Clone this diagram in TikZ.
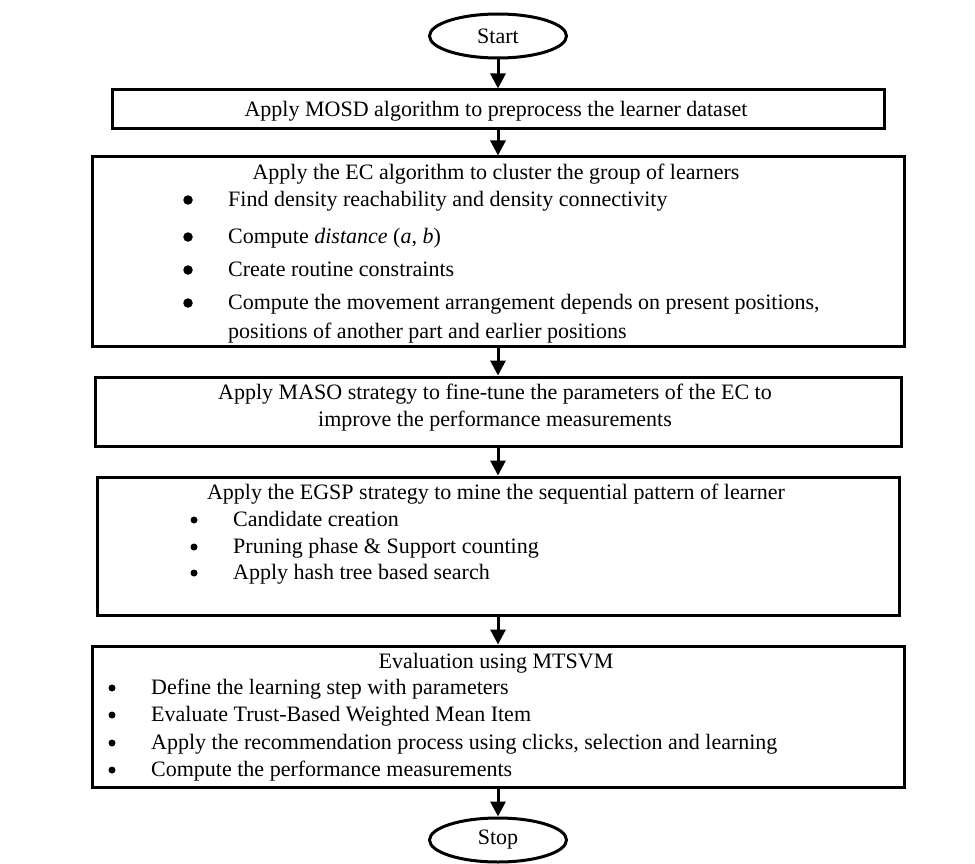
\documentclass[tikz,border=0pt]{standalone}
\usepackage{fontspec}
\setmainfont{Liberation Serif}
\usetikzlibrary{arrows.meta,shapes.geometric}
\begin{document}
\begin{tikzpicture}[x=1pt,y=-1pt,
  box/.style={draw, line width=3pt, inner sep=0pt},
  oval/.style={draw, ellipse, line width=3pt, minimum width=137pt, minimum height=44pt, inner sep=0pt, font=\fontsize{22}{26}\selectfont},
  txt/.style={anchor=base, inner sep=0pt, font=\fontsize{22}{26}\selectfont},
  ltxt/.style={anchor=base west, inner sep=0pt, font=\fontsize{22}{26}\selectfont},
  flow/.style={line width=3pt, -{Triangle[length=15pt,width=15pt]}},
  bigdot/.style={circle, fill, inner sep=0pt, minimum size=9.5pt},
  smalldot/.style={circle, fill, inner sep=0pt, minimum size=7pt}]
\useasboundingbox (0,0) rectangle (975,864);

\node[oval] (start) at (498,36) {Start};
\node[box, minimum width=772pt, minimum height=39pt] (b1) at (498,109.5) {};
\node[box, minimum width=812pt, minimum height=189pt] (b2) at (498,251.5) {};
\node[box, minimum width=806pt, minimum height=69pt] (b3) at (498,411.5) {};
\node[box, minimum width=802pt, minimum height=138pt] (b4) at (498,546) {};
\node[box, minimum width=812pt, minimum height=141pt] (b5) at (498,716.5) {};
\node[oval] (stop) at (498,840) {Stop};

\draw[flow] (start) -- (b1);
\draw[flow] (b1) -- (b2);
\draw[flow] (b2) -- (b3);
\draw[flow] (b3) -- (b4);
\draw[flow] (b4) -- (b5);
\draw[flow] (b5) -- (stop);

% box 1
\node[txt] (t1) at (496,117) {Apply MOSD algorithm to preprocess the learner dataset};

% box 2
\node[txt] (t2) at (496,179) {Apply the EC algorithm to cluster the group of learners};
\node[bigdot] (d21) at (188,200) {};
\node[ltxt] (t21) at (228,206) {Find density reachability and density connectivity};
\node[bigdot] (d22) at (188,237) {};
\node[ltxt] (t22) at (228,243) {Compute \textit{distance} (\textit{a}, \textit{b})};
\node[bigdot] (d23) at (188,270) {};
\node[ltxt] (t23) at (228,276) {Create routine constraints};
\node[bigdot] (d24) at (188,303) {};
\node[ltxt] (t24) at (228,309) {Compute the movement arrangement depends on present positions,};
\node[ltxt] (t25) at (228,338) {positions of another part and earlier positions};

% box 3
\node[txt] (t3a) at (495,399) {Apply MASO strategy to fine-tune the parameters of the EC to};
\node[txt] (t3b) at (495,426) {improve the performance measurements};

% box 4
\node[txt] (t4) at (496,499) {Apply the EGSP strategy to mine the sequential pattern of learner};
\node[smalldot] (d41) at (194,520) {};
\node[ltxt] (t41) at (233,526) {Candidate creation};
\node[smalldot] (d42) at (194,547) {};
\node[ltxt] (t42) at (233,553) {Pruning phase \& Support counting};
\node[smalldot] (d43) at (194,573) {};
\node[ltxt] (t43) at (233,579) {Apply hash tree based search};

% box 5
\node[txt] (t5) at (496,668) {Evaluation using MTSVM};
\node[smalldot] (d51) at (112,688) {};
\node[ltxt] (t51) at (151,694) {Define the learning step with parameters};
\node[smalldot] (d52) at (112,715) {};
\node[ltxt] (t52) at (151,721) {Evaluate Trust-Based Weighted Mean Item};
\node[smalldot] (d53) at (112,743) {};
\node[ltxt] (t53) at (151,749) {Apply the recommendation process using clicks, selection and learning};
\node[smalldot] (d54) at (112,770) {};
\node[ltxt] (t54) at (151,776) {Compute the performance measurements};
\end{tikzpicture}
\end{document}
